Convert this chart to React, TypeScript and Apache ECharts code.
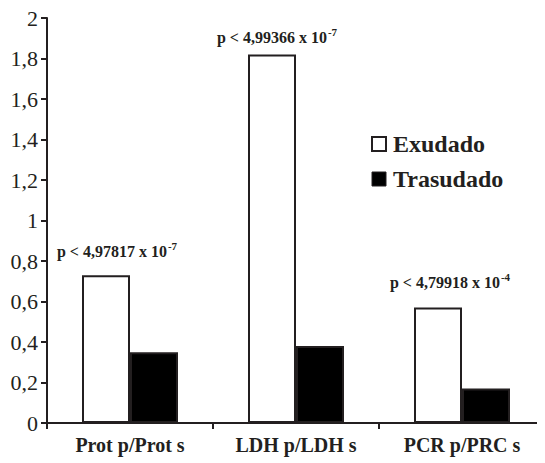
import React, { useEffect, useRef } from "react";
import * as echarts from "echarts";

const categories = ["Prot p/Prot s", "LDH p/LDH s", "PCR p/PRC s"];
const exudado = [0.73, 1.82, 0.57];
const trasudado = [0.35, 0.38, 0.17];
const pMantissa = ["4,97817", "4,99366", "4,79918"];
const pExponent = ["-7", "-7", "-4"];
const yTicks = { min: 0, max: 2, interval: 0.2 };

// per-group nudges for the p-value annotations above the white bars
const annotationOffset: [number, number][] = [
  [11, -12],
  [5, -5],
  [12, -13],
];

const INK = "#231f20";
const SERIF = "Liberation Serif";

export default function App() {
  const ref = useRef<HTMLDivElement>(null);

  useEffect(() => {
    if (!ref.current) return;
    const chart = echarts.init(ref.current, null, { renderer: "svg" });

    const exudadoData = exudado.map((v, i) => ({
      value: v,
      label: {
        show: true,
        position: "top",
        distance: 4,
        offset: annotationOffset[i],
        formatter: `{b|p < ${pMantissa[i]} x 10}{s|${pExponent[i]}}`,
        rich: {
          b: {
            fontFamily: SERIF,
            fontWeight: "bold",
            fontSize: 16,
            color: INK,
            lineHeight: 19,
            verticalAlign: "bottom",
          },
          s: {
            fontFamily: SERIF,
            fontWeight: "bold",
            fontSize: 11,
            color: INK,
            lineHeight: 19,
            verticalAlign: "top",
            padding: [0, 0, 9, 1],
          },
        },
      },
    }));

    chart.setOption({
      animation: false,
      backgroundColor: "#ffffff",
      grid: { left: 47, right: 0, top: 18, bottom: 40, containLabel: false },
      legend: {
        orient: "vertical",
        left: 366,
        top: 127,
        itemWidth: 14,
        itemHeight: 14,
        itemGap: 11,
        icon: "rect",
        textStyle: {
          fontFamily: SERIF,
          fontWeight: "bold",
          fontSize: 24,
          color: INK,
          padding: [0, 0, 0, 2],
        },
        data: [
          { name: "Exudado", itemStyle: { color: "#ffffff", borderColor: INK, borderWidth: 2 } },
          { name: "Trasudado", itemStyle: { color: "#000000", borderColor: INK, borderWidth: 1 } },
        ],
      },
      xAxis: {
        type: "category",
        data: categories,
        axisLine: { lineStyle: { color: INK, width: 2 } },
        axisTick: { show: true, length: 6, lineStyle: { color: INK, width: 2 } },
        axisLabel: {
          fontFamily: SERIF,
          fontWeight: "bold",
          fontSize: 20,
          color: INK,
          margin: 12,
        },
      },
      yAxis: {
        type: "value",
        min: yTicks.min,
        max: yTicks.max,
        interval: yTicks.interval,
        axisLine: { show: true, lineStyle: { color: INK, width: 2 } },
        axisTick: { show: true, length: 6, lineStyle: { color: INK, width: 2 } },
        splitLine: { show: false },
        axisLabel: {
          fontFamily: SERIF,
          fontWeight: "normal",
          fontSize: 22,
          color: INK,
          margin: 9,
          formatter: (v: number) => {
            const r = Math.round(v * 10) / 10;
            return Number.isInteger(r) ? String(r) : r.toFixed(1).replace(".", ",");
          },
        },
      },
      series: [
        {
          name: "Exudado",
          type: "bar",
          data: exudadoData,
          barWidth: 48,
          barGap: "0%",
          itemStyle: { color: "#ffffff", borderColor: INK, borderWidth: 2 },
        },
        {
          name: "Trasudado",
          type: "bar",
          data: trasudado,
          barWidth: 48,
          barGap: "0%",
          itemStyle: { color: "#000000", borderColor: INK, borderWidth: 2 },
        },
      ],
    });

    return () => chart.dispose();
  }, []);

  return <div ref={ref} style={{ width: 545, height: 463, marginLeft: -8, marginTop: -8 }} />;
}
